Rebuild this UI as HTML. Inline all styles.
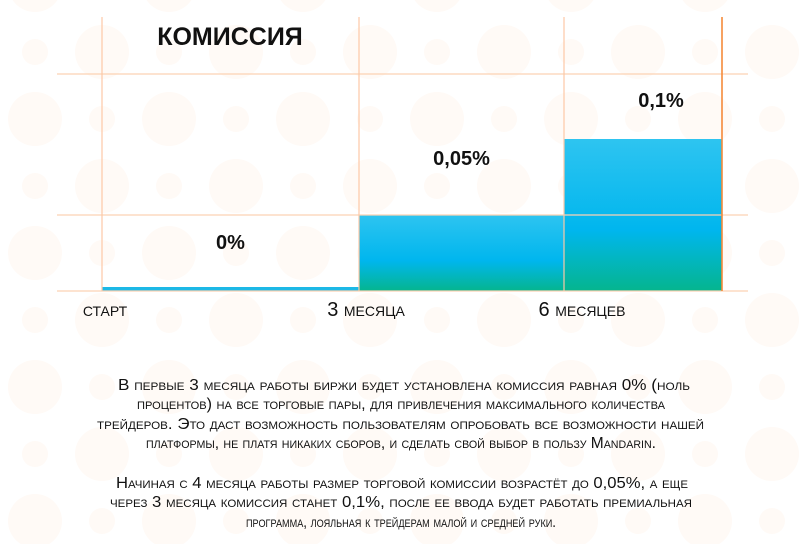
<!DOCTYPE html>
<html><head><meta charset="utf-8"><style>
html,body{margin:0;padding:0;background:#fff;}
svg{display:block;font-family:"Liberation Sans",sans-serif;}
</style></head><body>
<svg id="chart" width="800" height="544" viewBox="0 0 800 544">
<g id="dots"></g>
<g id="grid"></g>
<g id="bars"></g>
<g id="labels"></g>
<text x="230" y="45" text-anchor="middle" font-size="25" font-weight="bold" fill="#111">КОМИССИЯ</text>
<g font-size="16" fill="#111" style="font-variant:small-caps">
<text x="118" y="390" textLength="572" lengthAdjust="spacingAndGlyphs">В первые 3 месяца работы биржи будет установлена комиссия равная 0% (ноль</text>
<text x="137" y="409" textLength="528" lengthAdjust="spacingAndGlyphs">процентов) на все торговые пары, для привлечения максимального количества</text>
<text x="97" y="429" textLength="607" lengthAdjust="spacingAndGlyphs">трейдеров. Это даст возможность пользователям опробовать все возможности нашей</text>
<text x="146" y="448" textLength="510" lengthAdjust="spacingAndGlyphs">платформы, не платя никаких сборов, и сделать свой выбор в пользу Mandarin.</text>
<text x="116" y="488" textLength="572" lengthAdjust="spacingAndGlyphs">Начиная с 4 месяца работы размер торговой комиссии возрастёт до 0,05%, а еще</text>
<text x="110" y="507" textLength="582" lengthAdjust="spacingAndGlyphs">через 3 месяца комиссия станет 0,1%, после ее ввода будет работать премиальная</text>
<text x="246" y="527" textLength="310" lengthAdjust="spacingAndGlyphs">программа, лояльная к трейдерам малой и средней руки.</text>
</g>
</svg>
<script>
const categories = ["СТАРТ", "3 МЕСЯЦА", "6 МЕСЯЦЕВ"];
const values = [0, 0.05, 0.1];
const valueLabels = ["0%", "0,05%", "0,1%"];
const NS = "http://www.w3.org/2000/svg";
const edges = [102, 359, 564, 722];
const baseY = 291;
function yScale(v){ return baseY - v / 0.05 * 76; }
function mk(tag, attrs, parent){ const e = document.createElementNS(NS, tag); for (const k in attrs) e.setAttribute(k, attrs[k]); parent.appendChild(e); return e; }

const dots = document.getElementById('dots');
for (let r = 0; r < 9; r++) {
  for (let c = 0; c < 13; c++) {
    const big = (r + c) % 2 === 0;
    const d = mk('circle', {cx: 35 + c * 67, cy: -15 + r * 67, r: big ? 27 : 13, fill: '#fffaf6'}, dots);
    
    
  }
}

const defs = mk('defs', {}, document.getElementById('chart'));
const lg = mk('linearGradient', {id: 'barGrad', x1: 0, y1: 0, x2: 0, y2: 1}, defs);
mk('stop', {offset: '0', 'stop-color': '#2ec4f0'}, lg);
mk('stop', {offset: '0.6', 'stop-color': '#00b6ee'}, lg);
mk('stop', {offset: '1', 'stop-color': '#05b58e'}, lg);

const bars = document.getElementById('bars');
values.forEach((v, i) => {
  const top = yScale(v);
  const h = Math.max(baseY - top, 4);
  const b = mk('rect', {x: edges[i], y: baseY - h, width: edges[i + 1] - edges[i], height: h, fill: i === 0 ? '#1cb8e6' : 'url(#barGrad)'}, bars);
  
  
});

const grid = document.getElementById('grid');
[74, 215, 291].forEach(y => {
  const l = mk('line', {x1: 57, x2: 748, y1: y, y2: y, stroke: '#fcd2b4', 'stroke-width': 1.3}, grid);
  
  
});
document.getElementById('chart').appendChild(grid);
edges.forEach((x, i) => {
  const l = mk('line', {x1: x, x2: x, y1: 17, y2: 291, stroke: i === 3 ? '#f58a3a' : '#fcc9a6', 'stroke-width': i === 3 ? 1.6 : 1.2}, grid);
  
  
});

const labels = document.getElementById('labels');
document.getElementById('chart').appendChild(labels);
valueLabels.forEach((t, i) => {
  const cx = (edges[i] + edges[i + 1]) / 2 + (i === 2 ? 18 : 0);
  const y = i === 0 ? 249 : (i === 1 ? yScale(values[i]) - 50 : yScale(values[i]) - 32);
  const e = mk('text', {x: cx, y: y, 'text-anchor': 'middle', 'font-size': 20, 'font-weight': 'bold', fill: '#111'}, labels);
  e.textContent = t;
  
  
});
const catX = [104, 366, 582];
categories.forEach((t, i) => {
  const e = mk('text', {x: catX[i], y: 316, 'text-anchor': 'middle', fill: '#111'}, labels);
  if (i === 0) { e.setAttribute('font-size', 14); e.setAttribute('x', 105); e.textContent = t; }
  else {
    const parts = t.split(' ');
    const a = mk('tspan', {'font-size': 20}, e); a.textContent = parts[0] + ' ';
    const b = mk('tspan', {'font-size': 14}, e); b.textContent = parts[1];
  }
  
  
});
</script>
</body></html>
